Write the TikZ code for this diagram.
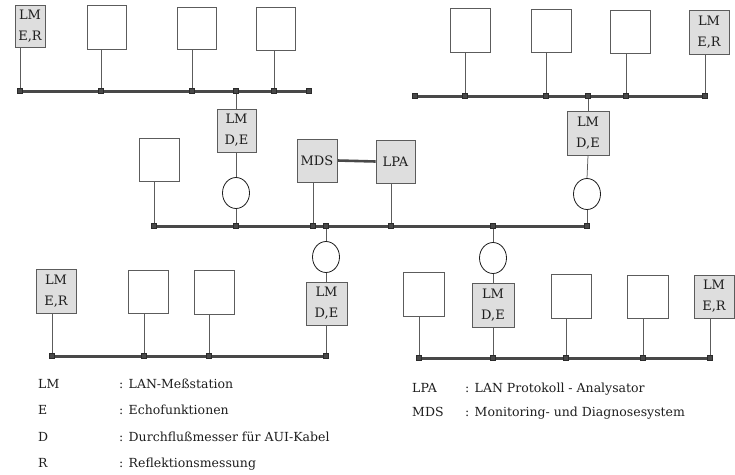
\documentclass[tikz,border=0pt]{standalone}
\usepackage{fontspec}
\setmainfont{DejaVu Serif}
\usetikzlibrary{shapes.geometric,backgrounds}

\definecolor{ink}{HTML}{1E1E1E}
\definecolor{buscol}{HTML}{484848}
\definecolor{edgecol}{HTML}{5C5C5C}
\definecolor{shade}{HTML}{DEDEDE}

\tikzset{
  box/.style={draw=edgecol, line width=0.8pt, inner sep=0pt, align=center,
    text=ink, font=\fontsize{13}{21}\selectfont},
  plainbox/.style={box, fill=white},
  shadebox/.style={box, fill=shade},
  tapsq/.style={rectangle, fill=buscol, draw=buscol!60!black, line width=0.3pt,
    minimum size=5pt, inner sep=0pt},
  bus/.style={draw=buscol, line width=3pt},
  wire/.style={draw=edgecol, line width=0.75pt},
  coupler/.style={ellipse, draw=ink, line width=0.8pt, fill=white,
    minimum width=27pt, minimum height=31pt, inner sep=0pt},
  legend/.style={anchor=base west, text=ink, font=\fontsize{12.5}{15}\selectfont,
    inner sep=0pt},
}

\begin{document}
\begin{tikzpicture}[x=1pt,y=-1pt]
\useasboundingbox (0,0) rectangle (735,474);

% ---------- upper left segment ----------
\node[shadebox, minimum width=30pt, minimum height=42pt] (tl1) at (30,26) {LM\\E,R};
\node[plainbox, minimum width=39pt, minimum height=44pt] (tl2) at (106.5,27) {};
\node[plainbox, minimum width=39pt, minimum height=42pt] (tl3) at (196.5,28) {};
\node[plainbox, minimum width=39pt, minimum height=43pt] (tl4) at (275.5,28.5) {};
\node[shadebox, minimum width=39pt, minimum height=43pt] (tlD) at (236.5,130.5) {LM\\D,E};

\node[tapsq] (ta1) at (20,91) {};
\node[tapsq] (ta2) at (101,91) {};
\node[tapsq] (ta3) at (192,91) {};
\node[tapsq] (ta4) at (236,91) {};
\node[tapsq] (ta5) at (274,91) {};
\node[tapsq] (ta6) at (309,91) {};

% ---------- upper right segment ----------
\node[plainbox, minimum width=40pt, minimum height=44pt] (tr1) at (470,30) {};
\node[plainbox, minimum width=40pt, minimum height=43pt] (tr2) at (551,30.5) {};
\node[plainbox, minimum width=40pt, minimum height=43pt] (tr3) at (630,31.5) {};
\node[shadebox, minimum width=40pt, minimum height=44pt] (tr4) at (709,32) {LM\\E,R};
\node[shadebox, minimum width=42pt, minimum height=44pt] (trD) at (588,133) {LM\\D,E};

\node[tapsq] (tb1) at (415,96) {};
\node[tapsq] (tb2) at (465,96) {};
\node[tapsq] (tb3) at (546,96) {};
\node[tapsq] (tb4) at (588,96) {};
\node[tapsq] (tb5) at (626,96) {};
\node[tapsq] (tb6) at (705,96) {};

% ---------- backbone ----------
\node[plainbox, minimum width=40pt, minimum height=43pt] (m1) at (159,159.5) {};
\node[shadebox, minimum width=40pt, minimum height=43pt] (mds) at (317,160.5) {MDS};
\node[shadebox, minimum width=39pt, minimum height=43pt] (lpa) at (395.5,161.5) {LPA};
\node[coupler] (c1) at (236,193) {};
\node[coupler] (c2) at (587,194) {};
\node[coupler] (c3) at (326,257) {};
\node[coupler] (c4) at (493,258) {};

\node[tapsq] (tm1) at (154,226) {};
\node[tapsq] (tm2) at (236,226) {};
\node[tapsq] (tm3) at (313,226) {};
\node[tapsq] (tm4) at (326,226) {};
\node[tapsq] (tm5) at (391,226) {};
\node[tapsq] (tm6) at (493,226) {};
\node[tapsq] (tm7) at (587,226) {};

% ---------- lower left segment ----------
\node[shadebox, minimum width=40pt, minimum height=44pt] (ll1) at (56,291) {LM\\E,R};
\node[plainbox, minimum width=40pt, minimum height=43pt] (ll2) at (148,291.5) {};
\node[plainbox, minimum width=40pt, minimum height=44pt] (ll3) at (214,292) {};
\node[shadebox, minimum width=41pt, minimum height=43pt] (llD) at (326.5,303.5) {LM\\D,E};

\node[tapsq] (tc1) at (52,356) {};
\node[tapsq] (tc2) at (144,356) {};
\node[tapsq] (tc3) at (209,356) {};
\node[tapsq] (tc4) at (326,356) {};

% ---------- lower right segment ----------
\node[plainbox, minimum width=41pt, minimum height=44pt] (lr1) at (423.5,294) {};
\node[shadebox, minimum width=42pt, minimum height=44pt] (lrD) at (493,305) {LM\\D,E};
\node[plainbox, minimum width=40pt, minimum height=44pt] (lr3) at (571,296) {};
\node[plainbox, minimum width=41pt, minimum height=43pt] (lr4) at (647.5,296.5) {};
\node[shadebox, minimum width=40pt, minimum height=43pt] (lr5) at (714,296.5) {LM\\E,R};

\node[tapsq] (td1) at (419,358) {};
\node[tapsq] (td2) at (493,358) {};
\node[tapsq] (td3) at (566,358) {};
\node[tapsq] (td4) at (643,358) {};
\node[tapsq] (td5) at (710,358) {};

% ---------- cables and drop lines ----------
\begin{scope}[on background layer]
  \draw[bus] (ta1.center) -- (ta6.center);
  \draw[bus] (tb1.center) -- (tb6.center);
  \draw[bus] (tm1.center) -- (tm7.center);
  \draw[bus] (tc1.center) -- (tc4.center);
  \draw[bus] (td1.center) -- (td5.center);
  \draw[draw=buscol, line width=2.6pt] (mds.east) -- (lpa.west);

  % upper left
  \draw[wire] (ta1.center) -- (ta1 |- tl1.south);
  \draw[wire] (ta2.center) -- (ta2 |- tl2.south);
  \draw[wire] (ta3.center) -- (ta3 |- tl3.south);
  \draw[wire] (ta5.center) -- (ta5 |- tl4.south);
  \draw[wire] (ta4.center) -- (ta4 |- tlD.north);
  \draw[wire] (ta4 |- tlD.south) -- (c1.north);
  \draw[wire] (c1.south) -- (tm2.center);

  % upper right
  \draw[wire] (tb2.center) -- (tb2 |- tr1.south);
  \draw[wire] (tb3.center) -- (tb3 |- tr2.south);
  \draw[wire] (tb5.center) -- (tb5 |- tr3.south);
  \draw[wire] (tb6.center) -- (tb6 |- tr4.south);
  \draw[wire] (tb4.center) -- (tb4 |- trD.north);
  \draw[wire] (tb4 |- trD.south) -- (c2.north);
  \draw[wire] (c2.south) -- (tm7.center);

  % backbone stations
  \draw[wire] (tm1.center) -- (tm1 |- m1.south);
  \draw[wire] (tm3.center) -- (tm3 |- mds.south);
  \draw[wire] (tm5.center) -- (tm5 |- lpa.south);
  \draw[wire] (tm4.center) -- (c3.north);
  \draw[wire] (tm6.center) -- (c4.north);

  % lower left
  \draw[wire] (c3.south) -- (c3.south |- llD.north);
  \draw[wire] (tc4.center) -- (tc4 |- llD.south);
  \draw[wire] (tc1.center) -- (tc1 |- ll1.south);
  \draw[wire] (tc2.center) -- (tc2 |- ll2.south);
  \draw[wire] (tc3.center) -- (tc3 |- ll3.south);

  % lower right
  \draw[wire] (c4.south) -- (lrD.north);
  \draw[wire] (td2.center) -- (lrD.south);
  \draw[wire] (td1.center) -- (td1 |- lr1.south);
  \draw[wire] (td3.center) -- (td3 |- lr3.south);
  \draw[wire] (td4.center) -- (td4 |- lr4.south);
  \draw[wire] (td5.center) -- (td5 |- lr5.south);
\end{scope}

% ---------- key ----------
\node[legend] (kLM)  at (38,388) {LM};
\node[legend] (kE)   at (38,414) {E};
\node[legend] (kD)   at (38,441) {D};
\node[legend] (kR)   at (38,467) {R};
\node[legend] (vLM)  at (119,388) {: LAN-Meßstation};
\node[legend] (vE)   at (119,414) {: Echofunktionen};
\node[legend] (vD)   at (119,441) {: Durchflußmesser für AUI-Kabel};
\node[legend] (vR)   at (119,467) {: Reflektionsmessung};

\node[legend] (kLPA) at (412,392) {LPA};
\node[legend] (kMDS) at (412,416) {MDS};
\node[legend] (vLPA) at (465,392) {: LAN Protokoll - Analysator};
\node[legend] (vMDS) at (465,416) {: Monitoring- und Diagnosesystem};
\end{tikzpicture}
\end{document}
